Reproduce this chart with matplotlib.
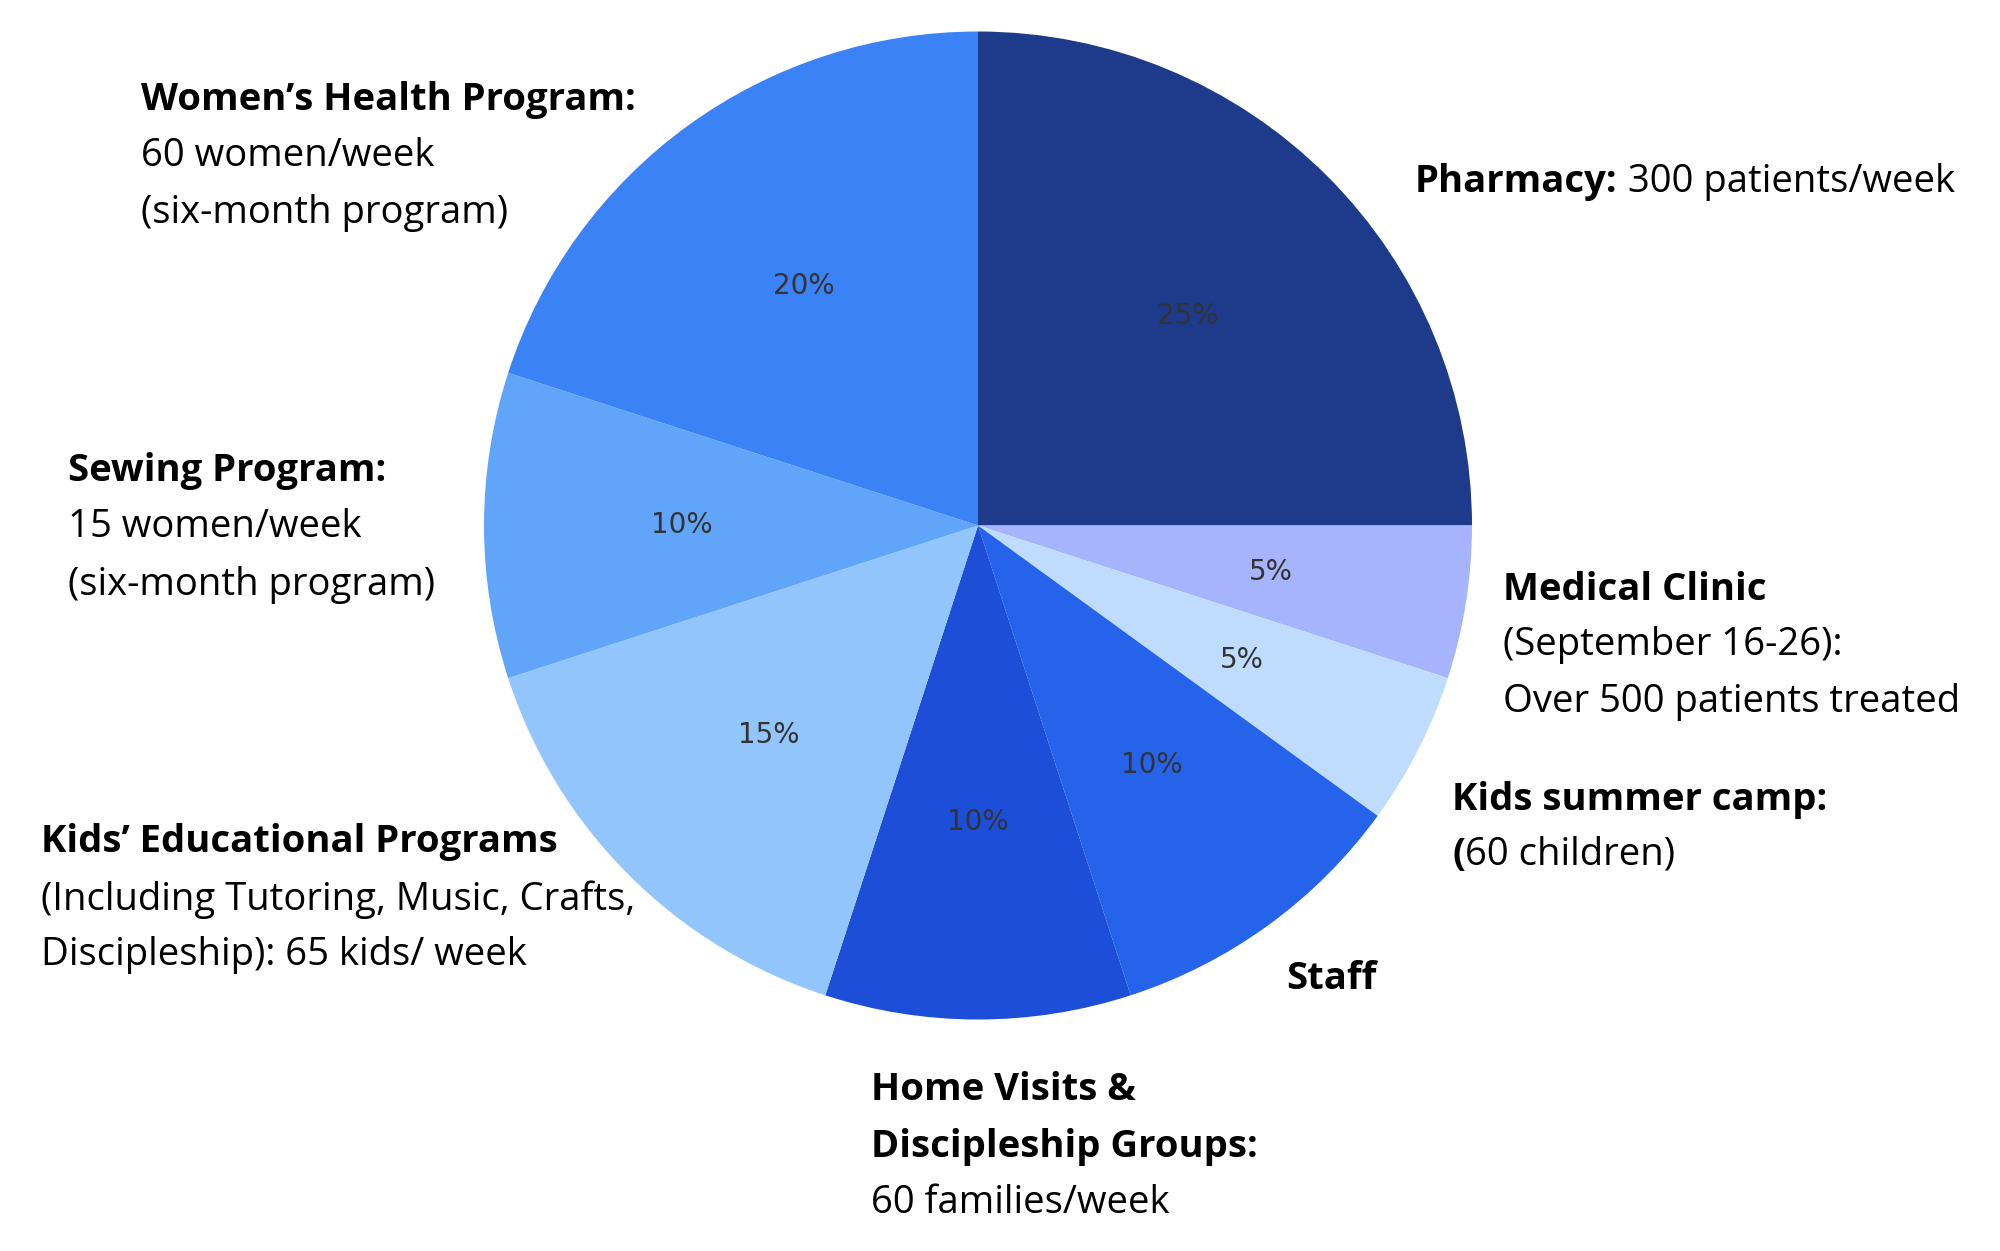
import matplotlib
matplotlib.use("Agg")
import matplotlib.pyplot as plt

# slices, clockwise from 12 o'clock
programs = ["Pharmacy", "Medical Clinic", "Kids summer camp", "Staff",
            "Home Visits", "Kids Educational", "Sewing", "Women's Health"]
shares = [25, 5, 5, 10, 10, 15, 10, 20]
colors = ["#1e3a8a", "#a5b4fc", "#bfdbfe", "#2563eb",
          "#1d4ed8", "#93c5fd", "#60a5fa", "#3b82f6"]

# callout text: (x px, [(baseline y px, [(text, bold), ...]), ...])
callouts = [
    (1415, [(192, [("Pharmacy:", True), (" 300 patients/week", False)])]),
    (1503, [(600, [("Medical Clinic", True)]),
            (655, [("(September 16-26):", False)]),
            (712, [("Over 500 patients treated", False)])]),
    (1452, [(810, [("Kids summer camp:", True)]),
            (865, [("(", True), ("60 children)", False)])]),
    (1286, [(989, [("Staff", True)])]),
    (871, [(1100, [("Home Visits &", True)]),
           (1157, [("Discipleship Groups:", True)]),
           (1213, [("60 families/week", False)])]),
    (41, [(852, [("Kids’ Educational Programs", True)]),
          (910, [("(Including Tutoring, Music, Crafts,", False)]),
          (965, [("Discipleship): 65 kids/ week", False)])]),
    (68, [(481, [("Sewing Program:", True)]),
          (537, [("15 women/week", False)]),
          (595, [("(six-month program)", False)])]),
    (141, [(110, [("Women’s Health Program:", True)]),
           (166, [("60 women/week", False)]),
           (223, [("(six-month program)", False)])]),
]

W, H = 2000, 1251
fig = plt.figure(figsize=(W / 100, H / 100), dpi=100)

cx, cy, r = 978, 525.5, 494
ax = fig.add_axes([(cx - r) / W, 1 - (cy + r) / H, 2 * r / W, 2 * r / H])
wedges, texts, autotexts = ax.pie(shares, colors=colors, startangle=90,
                                  counterclock=False, autopct="%d%%",
                                  pctdistance=0.6, radius=1,
                                  wedgeprops=dict(linewidth=0))
for t in autotexts:
    t.set_fontsize(20)
    t.set_color("#333333")
    t.set_fontfamily("DejaVu Sans")
ax.set_xlim(-1, 1)
ax.set_ylim(-1, 1)
ax.axis("off")

renderer = fig.canvas.get_renderer()
for x0, lines in callouts:
    for yb, runs in lines:
        x = x0
        for txt, bold in runs:
            t = fig.text(x / W, 1 - yb / H, txt, fontsize=27.5,
                         family=["Open Sans", "DejaVu Sans"],
                         weight="bold" if bold else "normal",
                         color="#000000", ha="left", va="baseline")
            x += t.get_window_extent(renderer).width

fig.savefig("out.png", dpi=100, facecolor="white")
